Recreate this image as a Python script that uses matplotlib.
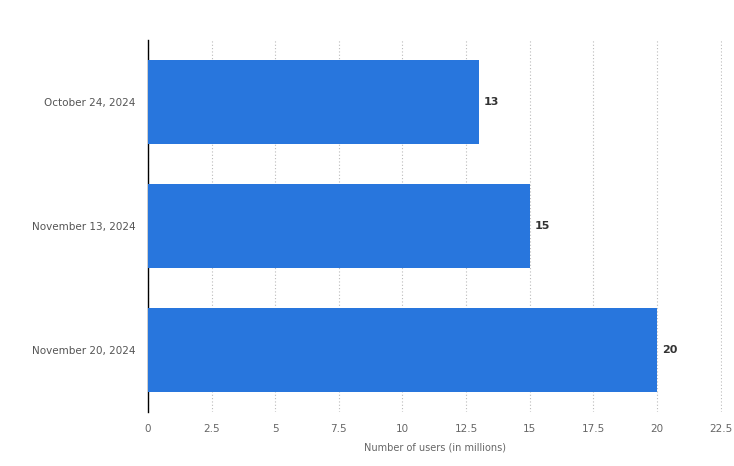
import matplotlib.pyplot as plt

dates = ["October 24, 2024", "November 13, 2024", "November 20, 2024"]
users = [13, 15, 20]
xticks = [0, 2.5, 5, 7.5, 10, 12.5, 15, 17.5, 20, 22.5]
xtick_labels = ["0", "2.5", "5", "7.5", "10", "12.5", "15", "17.5", "20", "22.5"]

fig = plt.figure(figsize=(7.34, 4.66), dpi=100)
ax = fig.add_axes([0.2016, 0.1159, 0.7815, 0.7983])

y = list(range(len(dates)))
ax.barh(y, users, height=0.68, color="#2876dd", zorder=3)
for yi, v in zip(y, users):
    ax.text(v + 0.2, yi, str(v), va="center", ha="left", fontsize=8,
            fontweight="bold", color="#333333", zorder=4)

ax.set_ylim(2.5, -0.5)
ax.set_xlim(0, 22.54)
ax.set_yticks(y)
ax.set_yticklabels(dates, fontsize=7.5, color="#555555")
ax.set_xticks(xticks)
ax.set_xticklabels(xtick_labels, fontsize=7.5, color="#666666")
ax.tick_params(axis="x", length=0, pad=9)
ax.tick_params(axis="y", length=0, pad=9)
ax.set_xlabel("Number of users (in millions)", fontsize=7, color="#666666", labelpad=6)

ax.grid(axis="x", linestyle=(0, (1, 2)), color="#bbbbbb", linewidth=0.8, zorder=0)
for s in ["top", "right", "bottom"]:
    ax.spines[s].set_visible(False)
ax.spines["left"].set_color("black")
ax.spines["left"].set_linewidth(1)

fig.savefig("out.png", dpi=100)
